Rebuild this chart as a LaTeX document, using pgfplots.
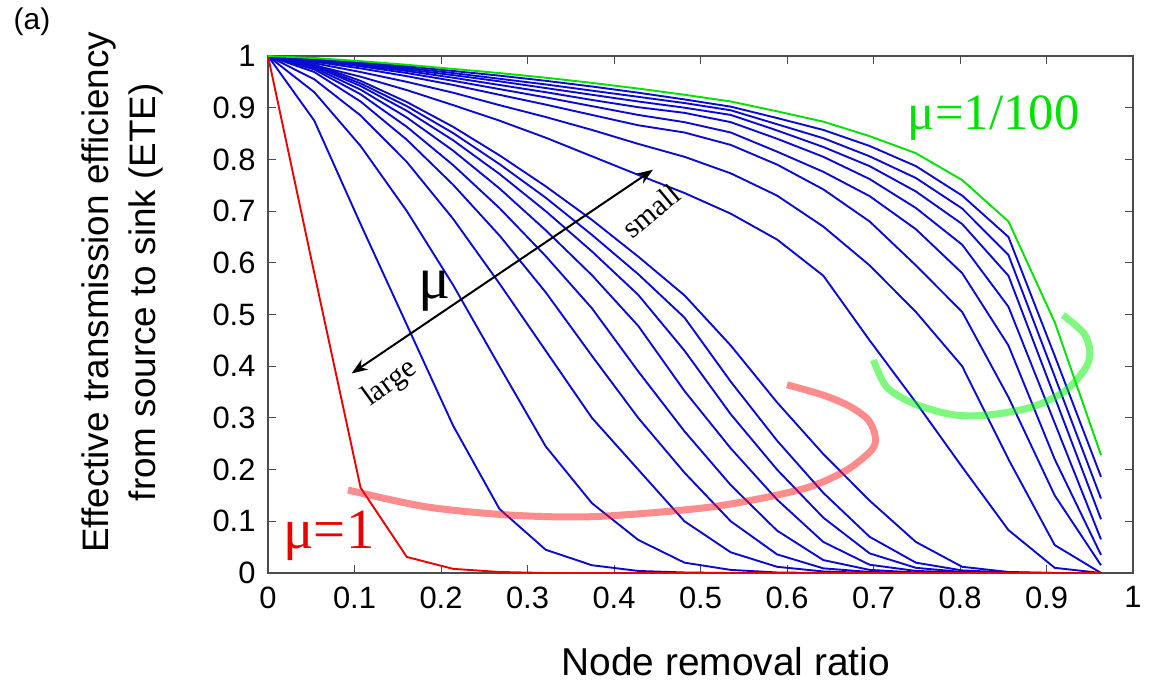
\documentclass[border=0pt]{standalone}
\usepackage{pgfplots}
\pgfplotsset{compat=1.18}
\usepackage{pgfplotstable}
\usepackage{fontspec}
\setmainfont{Liberation Sans}
\newfontfamily\tnr{Liberation Serif}
\usetikzlibrary{arrows.meta}
\definecolor{myblue}{RGB}{10,10,210}
\definecolor{mygreen}{RGB}{0,225,0}
\definecolor{myred}{RGB}{235,0,0}

\pgfplotstableread{
x      red    b1     b2     b3     b4     b5     b6     b7     b8     b9     b10    b11    b12    b13    b14    b15    b16    b17    green
0      1      1      1      1      1      1      1      1      1      1      1      1      1      1      1      1      1      1      1
0.0535 0.58   0.875  0.93   0.955  0.969  0.974  0.977  0.980  0.981  0.983  0.982  0.986  0.989  0.991  0.992  0.993  0.994  0.995  0.996
0.107  0.165  0.675  0.826  0.885  0.912  0.926  0.935  0.942  0.947  0.952  0.960  0.969  0.976  0.980  0.982  0.984  0.986  0.988  0.990
0.1605 0.031  0.48   0.70   0.795  0.838  0.863  0.881  0.894  0.903  0.911  0.934  0.950  0.961  0.967  0.971  0.974  0.977  0.980  0.983
0.214  0.008  0.285  0.557  0.685  0.751  0.789  0.817  0.837  0.851  0.863  0.905  0.929  0.944  0.952  0.958  0.963  0.967  0.971  0.975
0.2675 0.002  0.124  0.40   0.56   0.653  0.706  0.744  0.772  0.791  0.808  0.875  0.905  0.925  0.936  0.944  0.951  0.956  0.962  0.967
0.321  0      0.045  0.245  0.43   0.543  0.613  0.663  0.70   0.726  0.748  0.842  0.882  0.906  0.920  0.930  0.938  0.945  0.952  0.958
0.3745 0      0.015  0.135  0.30   0.42   0.512  0.576  0.622  0.654  0.683  0.806  0.857  0.886  0.903  0.915  0.925  0.933  0.941  0.948
0.428  0      0.004  0.064  0.20   0.30   0.39   0.478  0.538  0.578  0.612  0.770  0.830  0.866  0.886  0.901  0.912  0.921  0.929  0.937
0.4815 0      0.001  0.02   0.10   0.194  0.274  0.352  0.43   0.494  0.537  0.735  0.805  0.852  0.872  0.890  0.900  0.909  0.916  0.925
0.535  0      0      0.006  0.04   0.10   0.17   0.241  0.307  0.37   0.44   0.695  0.773  0.828  0.852  0.872  0.886  0.895  0.902  0.912
0.5885 0      0      0.001  0.012  0.036  0.082  0.142  0.20   0.256  0.33   0.645  0.730  0.790  0.815  0.840  0.856  0.868  0.880  0.893
0.642  0      0      0      0.003  0.009  0.025  0.06   0.107  0.155  0.23   0.575  0.670  0.742  0.776  0.805  0.824  0.841  0.857  0.873
0.6955 0      0      0      0      0.002  0.006  0.016  0.038  0.07   0.14   0.45   0.595  0.680  0.729  0.762  0.787  0.806  0.826  0.845
0.749  0      0      0      0      0      0.001  0.004  0.01   0.02   0.06   0.33   0.505  0.595  0.665  0.706  0.738  0.764  0.787  0.812
0.8025 0      0      0      0      0      0      0.001  0.002  0.005  0.012  0.205  0.40   0.505  0.580  0.635  0.675  0.705  0.730  0.760
0.856  0      0      0      0      0      0      0      0      0.001  0.002  0.083  0.22   0.34   0.44   0.515  0.575  0.615  0.650  0.680
0.9095 0      0      0      0      0      0      0      0      0      0      0.01   0.054  0.15   0.22   0.29   0.34   0.38   0.42   0.485
0.963  0      0      0      0      0      0      0      0      0      0      0      0      0.015  0.035  0.065  0.104  0.144  0.186  0.228
}\datatable

\begin{document}
\begin{tikzpicture}
\useasboundingbox (0,0) rectangle (1151bp,684bp);
\begin{axis}[
  at={(268bp,111bp)}, anchor=south west,
  width=865bp, height=517bp, scale only axis,
  xmin=0, xmax=1, ymin=0, ymax=1,
  xtick={0,0.1,0.2,0.3,0.4,0.5,0.6,0.7,0.8,0.9,1},
  ytick={0,0.1,0.2,0.3,0.4,0.5,0.6,0.7,0.8,0.9,1},
  xticklabels={0,0.1,0.2,0.3,0.4,0.5,0.6,0.7,0.8,0.9,1},
  yticklabels={0,0.1,0.2,0.3,0.4,0.5,0.6,0.7,0.8,0.9,1},
  /pgf/number format/assume math mode=true,
  tick align=inside,
  major tick length=8bp,
  axis line style={draw=black!70, line width=1.3bp},
  tick style={draw=black!70, line width=1bp},
  ticklabel style={font=\fontsize{31}{34}\selectfont},
  xticklabel style={yshift=-10bp},
  yticklabel style={xshift=-9bp},
  xlabel={Node removal ratio},
  xlabel style={font=\fontsize{39}{46}\selectfont, at={(rel axis cs:0.529,-0.172)}, anchor=center},
  ylabel={Effective transmission efficiency\\from source to sink (ETE)},
  ylabel style={align=center, font=\fontsize{37}{47}\selectfont, at={(rel axis cs:-0.168,0.543)}, anchor=center},
  every axis plot/.append style={line width=1.9bp, mark=none},
]
\foreach \c in {b1,b2,b3,b4,b5,b6,b7,b8,b9,b10,b11,b12,b13,b14,b15,b16,b17}{
  \addplot[myblue] table[x=x, y=\c] {\datatable};
}
\addplot[myred] table[x=x, y=red] {\datatable};
\addplot[mygreen] table[x=x, y=green] {\datatable};

% highlight arcs
\addplot[smooth, line width=7bp, red!90, opacity=0.5] coordinates {
 (0.0925,0.1605) (0.183,0.128) (0.28,0.112) (0.376,0.109) (0.499,0.125) (0.569,0.144)
 (0.627,0.167) (0.669,0.199) (0.698,0.238) (0.702,0.264) (0.694,0.296) (0.673,0.322)
 (0.642,0.344) (0.600,0.364)};
\addplot[smooth, line width=7bp, green!90!black!50!green, opacity=0.5] coordinates {
 (0.700,0.412) (0.715,0.36) (0.746,0.328) (0.792,0.306) (0.835,0.306) (0.885,0.322)
 (0.923,0.354) (0.946,0.399) (0.950,0.431) (0.943,0.464) (0.919,0.499)};

% arrow
\addplot[black, line width=2bp, {Stealth[length=16bp,width=12bp]}-{Stealth[length=16bp,width=12bp]}] coordinates {(0.0967,0.386) (0.445,0.78)};

\node[font=\tnr\fontsize{60}{62}\selectfont] at (axis cs:0.192,0.545) {μ};
\node[rotate=40, font=\tnr\fontsize{30}{32}\selectfont] at (axis cs:0.443,0.700) {small};
\node[rotate=36, font=\tnr\fontsize{30}{32}\selectfont] at (axis cs:0.141,0.366) {large};
\node[anchor=base, text=mygreen, font=\tnr\fontsize{51}{53}\selectfont] at (axis cs:0.839,0.857) {μ=1/100};
\node[anchor=base, text=myred, font=\tnr\fontsize{57}{59}\selectfont] at (axis cs:0.0705,0.048) {μ=1};
\end{axis}
\node[font=\fontsize{30}{34}\selectfont] at (32bp,662bp) {(a)};
\end{tikzpicture}
\end{document}
